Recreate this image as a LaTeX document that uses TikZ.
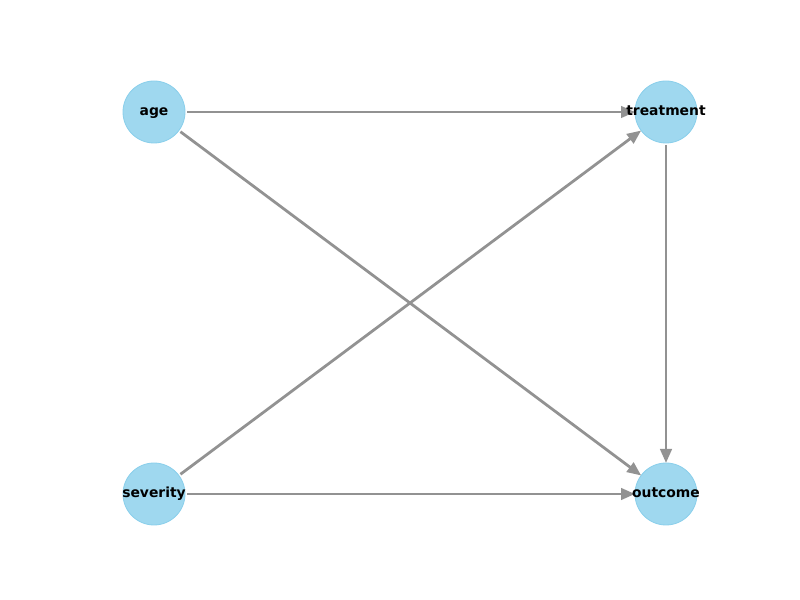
\documentclass[tikz,border=0pt]{standalone}
\usepackage{fontspec}
\setmainfont{DejaVu Sans}
\usetikzlibrary{arrows.meta}
\definecolor{nodefill}{HTML}{9FD8EF}
\definecolor{nodeedge}{HTML}{8ACFEB}
\definecolor{edgegray}{HTML}{929292}
\tikzset{
  var/.style={circle, minimum size=0.62in, inner sep=0pt, outer sep=0pt, fill=nodefill, draw=nodeedge, line width=0.6pt},
  lab/.style={font=\fontsize{10bp}{12bp}\selectfont\bfseries, text=black, inner sep=0pt, text height=0.76em, text depth=0.24em},
  edge/.style={draw=edgegray, line width=2bp, -{Triangle[length=0.14in, width=0.115in]}, shorten <=0.02in}
}
\begin{document}
\begin{tikzpicture}[x=1in,y=1in]
\useasboundingbox (0,0) rectangle (8,6);
\node[var] (age) at (1.54,4.88) {};
\node[var] (treatment) at (6.66,4.88) {};
\node[var] (severity) at (1.54,1.06) {};
\node[var] (outcome) at (6.66,1.06) {};
\draw[edge] (age) -- (treatment);
\draw[edge] (age) -- (outcome);
\draw[edge] (severity) -- (treatment);
\draw[edge] (severity) -- (outcome);
\draw[edge] (treatment) -- (outcome);
\node[lab] at (age) {age};
\node[lab] at (treatment) {treatment};
\node[lab] at (severity) {severity};
\node[lab] at (outcome) {outcome};
\end{tikzpicture}
\end{document}
